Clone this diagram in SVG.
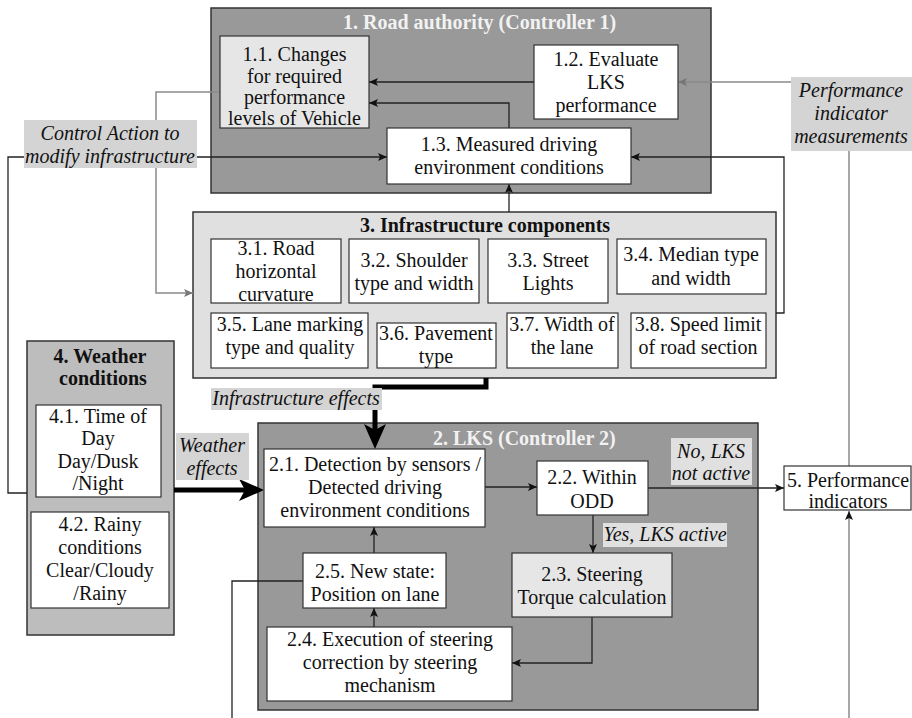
<svg xmlns="http://www.w3.org/2000/svg" width="912" height="718" viewBox="0 0 912 718">
<style>
.t{font-family:"Liberation Serif","Times New Roman",serif;font-size:20px;text-anchor:middle;fill:#111}
.it{font-style:italic}
.bt{font-weight:bold}
.wt{fill:#f2f2f2;text-anchor:start}
.dark{fill:#999999;stroke:#333;stroke-width:1.5}
.mid{fill:#bdbdbd;stroke:#333;stroke-width:1.5}
.light{fill:#e0e0e0;stroke:#333;stroke-width:1.5}
.pale{fill:#e6e6e6;stroke:#333;stroke-width:1.2}
.box{fill:#fff;stroke:#333;stroke-width:1.2}
.lbl{fill:#d4d4d4}
.lbl2{fill:#e0e0e0}
.c{fill:none;stroke:#222;stroke-width:1.3}
.g{fill:none;stroke:#8a8a8a;stroke-width:1.5}
.thick{fill:none;stroke:#000;stroke-width:5}
</style>
<defs>
<marker id="a" markerUnits="userSpaceOnUse" markerWidth="10" markerHeight="8" refX="9" refY="4" orient="auto"><path d="M0,0 L9,4 L0,8 L2,4 z" fill="#111"/></marker>
<marker id="ag" markerUnits="userSpaceOnUse" markerWidth="10" markerHeight="8" refX="9" refY="4" orient="auto"><path d="M0,0 L9,4 L0,8 L2,4 z" fill="#777"/></marker>
<marker id="big" markerUnits="userSpaceOnUse" markerWidth="26" markerHeight="22" refX="6" refY="11" orient="auto"><path d="M0,0 L25,11 L0,22 L6,11 z" fill="#000"/></marker>
</defs>

<g id="node-1">
<rect class="dark" x="211" y="8" width="500" height="185"/>
<text class="t bt wt" x="343" y="29">1. Road authority (Controller 1)</text>
</g>
<g id="node-3">
<rect class="light" x="193" y="212" width="583" height="166"/>
<text class="t bt" x="485" y="232">3. Infrastructure components</text>
</g>
<g id="node-4">
<rect class="mid" x="27" y="341" width="147" height="294"/>
<text class="t bt" x="100" y="363">4. Weather</text>
<text class="t bt" x="103" y="385">conditions</text>
</g>
<g id="node-2">
<rect class="dark" x="258" y="423" width="500" height="287"/>
<text class="t bt wt" x="433" y="445">2. LKS (Controller 2)</text>
</g>

<g id="connectors">
<path class="c" d="M534,82 H369" marker-end="url(#a)"/>
<path class="c" d="M509,128 V103 H369" marker-end="url(#a)"/>
<path class="g" d="M791,82 H678" marker-end="url(#ag)"/>
<path class="g" d="M849,151 V466"/>
<path class="g" d="M849,718 V511" stroke="#777" marker-end="url(#a)"/>
<path class="c" d="M776,313 H784 V157 H631" marker-end="url(#a)"/>
<path class="c" d="M509,212 V184" marker-end="url(#a)"/>
<path class="g" d="M220,92 H156 V293 H193" marker-end="url(#ag)"/>
<path class="c" d="M27,493 H8 V157 H387" marker-end="url(#a)"/>
<path class="thick" d="M486,378 V387 H375 V430" marker-end="url(#big)"/>
<path class="thick" d="M174,490 H245" marker-end="url(#big)"/>
<path class="c" d="M485,487 H537" marker-end="url(#a)"/>
<path class="c" d="M648,488 H784" marker-end="url(#a)"/>
<path class="c" d="M593,515 V553" marker-end="url(#a)"/>
<path class="c" d="M592,617 V663 H512" marker-end="url(#a)"/>
<path class="c" d="M374,627 V608" marker-end="url(#a)"/>
<path class="c" d="M374,553 V527" marker-end="url(#a)"/>
<path class="c" d="M303,581 H232 V718"/>
</g>

<g id="node-1-1">
<rect class="pale" x="220" y="36" width="149" height="92"/>
<text class="t" x="294.5" y="61">1.1. Changes</text>
<text class="t" x="294.5" y="83">for required</text>
<text class="t" x="294.5" y="104">performance</text>
<text class="t" x="294.5" y="125">levels of Vehicle</text>
</g>
<g id="node-1-2">
<rect class="box" x="534" y="45" width="144" height="74"/>
<text class="t" x="606" y="66">1.2. Evaluate</text>
<text class="t" x="606" y="89">LKS</text>
<text class="t" x="606" y="112">performance</text>
</g>
<g id="node-1-3">
<rect class="box" x="387" y="128" width="244" height="56"/>
<text class="t" x="509" y="151">1.3. Measured driving</text>
<text class="t" x="509" y="174">environment conditions</text>
</g>

<g id="node-3-1">
<rect class="box" x="211" y="239" width="130" height="64"/>
<text class="t" x="276" y="255">3.1. Road</text>
<text class="t" x="276" y="278">horizontal</text>
<text class="t" x="276" y="301">curvature</text>
</g>
<g id="node-3-2">
<rect class="box" x="349" y="239" width="130" height="64"/>
<text class="t" x="414" y="267">3.2. Shoulder</text>
<text class="t" x="414" y="290">type and width</text>
</g>
<g id="node-3-3">
<rect class="box" x="488" y="239" width="120" height="64"/>
<text class="t" x="548" y="267">3.3. Street</text>
<text class="t" x="548" y="290">Lights</text>
</g>
<g id="node-3-4">
<rect class="box" x="617" y="239" width="149" height="55"/>
<text class="t" x="691" y="261">3.4. Median type</text>
<text class="t" x="691" y="285">and width</text>
</g>
<g id="node-3-5">
<rect class="box" x="211" y="313" width="157" height="55"/>
<text class="t" x="290" y="331">3.5. Lane marking</text>
<text class="t" x="290" y="354">type and quality</text>
</g>
<g id="node-3-6">
<rect class="box" x="377" y="323" width="119" height="45"/>
<text class="t" x="436" y="340">3.6. Pavement</text>
<text class="t" x="436" y="363">type</text>
</g>
<g id="node-3-7">
<rect class="box" x="507" y="313" width="111" height="55"/>
<text class="t" x="562" y="331">3.7. Width of</text>
<text class="t" x="562" y="354">the lane</text>
</g>
<g id="node-3-8">
<rect class="box" x="631" y="313" width="135" height="55"/>
<text class="t" x="698" y="331">3.8. Speed limit</text>
<text class="t" x="698" y="354">of road section</text>
</g>

<g id="node-4-1">
<rect class="box" x="36" y="405" width="125" height="92"/>
<text class="t" x="98" y="423">4.1. Time of</text>
<text class="t" x="98" y="445">Day</text>
<text class="t" x="98" y="468">Day/Dusk</text>
<text class="t" x="98" y="490">/Night</text>
</g>
<g id="node-4-2">
<rect class="box" x="31" y="512" width="138" height="96"/>
<text class="t" x="100" y="531">4.2. Rainy</text>
<text class="t" x="100" y="554">conditions</text>
<text class="t" x="100" y="577">Clear/Cloudy</text>
<text class="t" x="100" y="600">/Rainy</text>
</g>

<g id="node-2-1">
<rect class="box" x="264" y="449" width="221" height="78"/>
<text class="t" x="375" y="471">2.1. Detection by sensors /</text>
<text class="t" x="375" y="494">Detected driving</text>
<text class="t" x="375" y="517">environment conditions</text>
</g>
<g id="node-2-2">
<rect class="box" x="537" y="461" width="111" height="54"/>
<text class="t" x="592" y="484">2.2. Within</text>
<text class="t" x="592" y="508">ODD</text>
</g>
<g id="node-2-3">
<rect class="pale" x="512" y="553" width="160" height="64"/>
<text class="t" x="592" y="581">2.3. Steering</text>
<text class="t" x="592" y="604">Torque calculation</text>
</g>
<g id="node-2-4">
<rect class="box" x="267" y="627" width="245" height="74"/>
<text class="t" x="390" y="646">2.4. Execution of steering</text>
<text class="t" x="390" y="669">correction by steering</text>
<text class="t" x="390" y="692">mechanism</text>
</g>
<g id="node-2-5">
<rect class="box" x="303" y="553" width="143" height="55"/>
<text class="t" x="375" y="578">2.5. New state:</text>
<text class="t" x="375" y="601">Position on lane</text>
</g>
<g id="node-5">
<rect class="box" x="784" y="466" width="127" height="44"/>
<text class="t" x="848" y="487">5. Performance</text>
<text class="t" x="848" y="508">indicators</text>
</g>

<g id="labels">
<rect class="lbl" x="24" y="120" width="173" height="48"/>
<text class="t it" x="110" y="140">Control Action to</text>
<text class="t it" x="110" y="163">modify infrastructure</text>
<rect class="lbl" x="791" y="77" width="121" height="74"/>
<text class="t it" x="851" y="97">Performance</text>
<text class="t it" x="851" y="120">indicator</text>
<text class="t it" x="851" y="143">measurements</text>
<rect class="lbl" x="211" y="388" width="171" height="22"/>
<text class="t it" x="296" y="405">Infrastructure effects</text>
<rect class="lbl" x="176" y="433" width="73" height="47"/>
<text class="t it" x="212" y="452">Weather</text>
<text class="t it" x="212" y="475">effects</text>
<rect class="lbl2" x="671" y="438" width="81" height="47"/>
<text class="t it" x="711" y="458">No, LKS</text>
<text class="t it" x="711" y="480">not active</text>
<rect class="lbl2" x="603" y="523" width="124" height="24"/>
<text class="t it" x="665" y="541">Yes, LKS active</text>
</g>
</svg>
